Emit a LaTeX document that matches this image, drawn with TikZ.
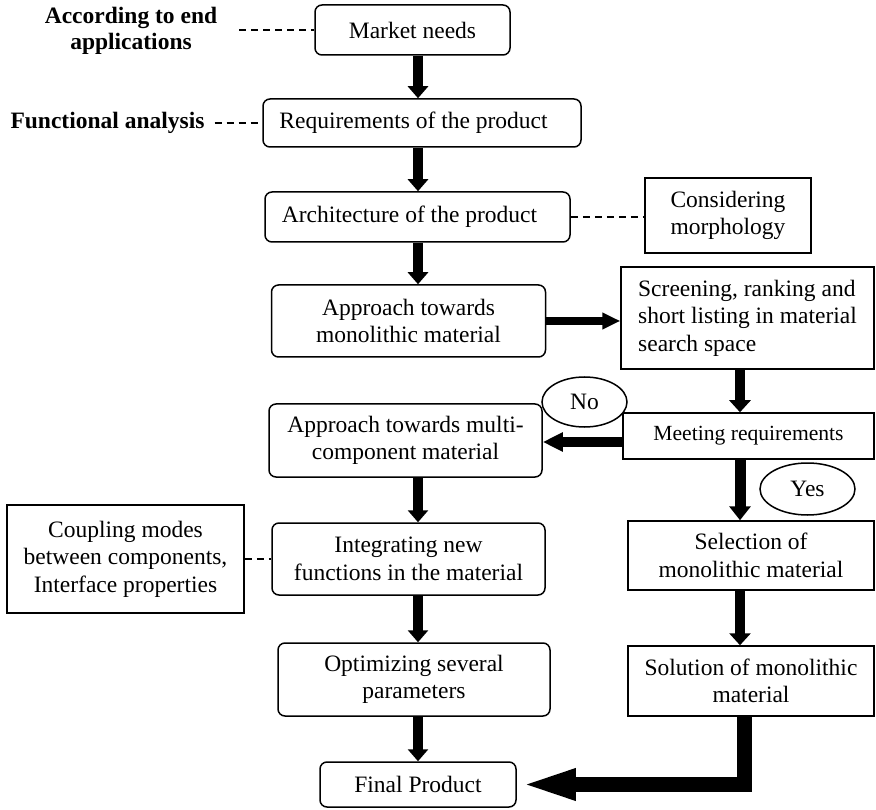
\documentclass[tikz,border=0pt]{standalone}
\usepackage{fontspec}
\setmainfont{Liberation Serif}
\usetikzlibrary{arrows.meta,shapes.geometric}
\begin{document}
\begin{tikzpicture}[x=1pt,y=-1pt,
  every node/.style={font=\fontsize{23.5}{27.5}\selectfont, inner sep=0pt},
  sz/.style 2 args={minimum width=#1pt, minimum height=#2pt},
  rbox/.style={draw, line width=1.5pt, rounded corners=7pt, align=center},
  sbox/.style={draw, line width=1.5pt, align=center},
  oval/.style={draw, ellipse, line width=1.5pt, fill=white},
  note/.style={font=\fontsize{23.5}{26}\selectfont\bfseries, align=center},
  link/.style={line width=1.3pt, dash pattern=on 7pt off 5pt},
  flow/.style={line width=9.5pt, -{Triangle[length=12pt,width=20pt]}},
  flowr/.style={line width=10pt, -{Triangle[length=12pt,width=21pt]}},
  flowyes/.style={line width=11pt, -{Triangle[length=14pt,width=21pt]}},
  flowside/.style={line width=8pt, -{Triangle[length=18pt,width=16pt]}},
  flowno/.style={line width=10pt, -{Triangle[length=20pt,width=18pt]}},
  flowbig/.style={line width=15pt, line join=miter, -{Triangle[length=59pt,width=27pt]}},
]
\useasboundingbox (0,0) rectangle (876,810);
\fill[white] (0,0) rectangle (876,810);

% column guides for the vertical arrows
\coordinate (cl) at (418,0);
\coordinate (cr) at (740,0);
\coordinate (rowno) at (0,442);

% main chain
\node[rbox, sz={195}{50}] (market) at (412.5,30) {Market needs};
\node[rbox, sz={318}{48}] (req) at (422,123) {Requirements of the product\hspace*{17pt}};
\node[rbox, sz={305}{50}] (arch) at (417.5,217) {Architecture of the product\hspace*{16pt}};
\node[sbox, sz={166}{75}] (morph) at (728,215.5) {Considering\\morphology};
\node[rbox, sz={274}{72}] (mono) at (408.5,321) {Approach towards\\monolithic material};
\node[sbox, sz={253}{102}, align=left] (screen) at (747.5,318) {Screening, ranking and\\short listing in material\\search space};
\node[sbox, sz={251}{46}, font=\fontsize{21.6}{26}\selectfont] (meet) at (748.5,436) {Meeting requirements};
\node[rbox, sz={273}{73}] (multi) at (405.5,440.5) {Approach towards multi-\\component material};
\node[sbox, sz={237}{108}] (coup) at (125.5,559) {Coupling modes\\between components,\\Interface properties};
\node[rbox, sz={273}{72}] (integ) at (408.5,559) {Integrating new\\functions in the material};
\node[sbox, sz={246}{69}] (select) at (751,555.5) {Selection of\\monolithic material};
\node[rbox, sz={272}{73}] (optim) at (414,679.5) {Optimizing several\\parameters};
\node[sbox, sz={246}{70}] (solu) at (751,681) {Solution of monolithic\\material};
\node[rbox, sz={196}{45}] (final) at (418,784.5) {Final Product};

% side notes
\node[note] (endapp) at (131,31) {According to end\\applications};
\node[note] (func) at (107.5,123) {Functional analysis};

% dashed links
\draw[link] ([xshift=22pt]endapp.east |- market.west) -- (market.west);
\draw[link] ([xshift=10pt]func.east) -- (req.west);
\draw[link] (arch.east) -- (morph.west |- arch.east);
\draw[link] (coup.east) -- (integ.west |- coup.east);

% flow arrows, left column
\draw[flow] (market.south -| cl) -- (req.north -| cl);
\draw[flow] (req.south -| cl) -- (arch.north -| cl);
\draw[flow] (arch.south -| cl) -- (mono.north -| cl);
\draw[flow] (multi.south -| cl) -- (integ.north -| cl);
\draw[flow] (integ.south -| cl) -- (optim.north -| cl);
\draw[flow] (optim.south -| cl) -- (final.north -| cl);

% flow arrows, right column
\draw[flowr] (screen.south -| cr) -- (meet.north -| cr);
\draw[flowyes] (meet.south -| cr) -- (select.north -| cr);
\draw[flowr] (select.south -| cr) -- (solu.north -| cr);

% cross links
\draw[flowside] (mono.east) -- (screen.west |- mono.east);
\draw[flowno] (meet.west |- rowno) -- (multi.east |- rowno);
\draw[flowbig] ([xshift=-6.5pt]solu.south) |- (final.east);

% decision labels
\node[oval, sz={85}{50}] (no) at (584.5,402) {No};
\node[oval, sz={95}{52}] (yes) at (807.5,489) {Yes};
\end{tikzpicture}
\end{document}
